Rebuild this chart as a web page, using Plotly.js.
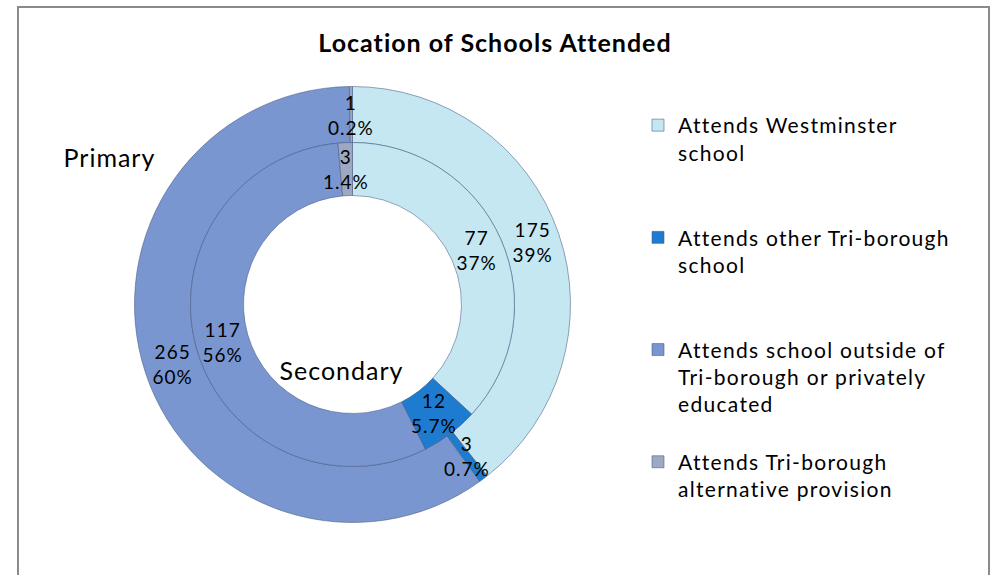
<!DOCTYPE html>
<html><head><meta charset="utf-8">
<script src="https://cdn.plot.ly/plotly-3.0.1.min.js"></script>
<style>
html,body{margin:0;padding:0;background:#fff}
#chart{width:991px;height:575px}
#chart svg text{letter-spacing:1px}
#chart svg .legendtext{letter-spacing:1.3px}
#chart svg .legend .scrollbox{clip-path:none !important}
</style>
</head><body><div id="chart"></div>
<script>
// ---- data ----
const chartTitle = "Location of Schools Attended";
const categories = [
  "Attends Westminster<br>school",
  "Attends other Tri-borough<br>school",
  "Attends school outside of<br>Tri-borough or privately<br>educated",
  "Attends Tri-borough<br>alternative provision"
];
const primaryValues = [175, 3, 265, 1];
const secondaryValues = [77, 12, 117, 3];
const ringNames = ["Primary", "Secondary"];

// ---- styles / geometry ----
const W = 991, H = 575;
const CX = 352.5, CY = 304.5;
const R_OUT = 218, R_MID = 162, R_IN = 109;
const colors = ["#C4E7F1", "#1E7CD0", "#7996D0", "#9DA9C3"];
const FONT = "Lato, 'Open Sans', sans-serif";

function dom(r) {
  return {x: [(CX - r) / W, (CX + r) / W], y: [(H - CY - r) / H, (H - CY + r) / H]};
}
// pad legend names to equal line counts so entries are evenly spaced
const LINES = 4;
const legendNames = categories.map(c => {
  const n = c.split("<br>").length;
  let s = c;
  for (let i = n; i < LINES; i++) s += "<br>\u00a0";
  return s;
});

function fmtPct(p) { return p >= 10 ? Math.round(p) + "%" : p.toFixed(1) + "%"; }

function ringLabels(values, r0, r1) {
  const total = values.reduce((a, b) => a + b, 0);
  let cum = 0;
  const out = [];
  values.forEach(v => {
    const mid = (cum + v / 2) / total * 2 * Math.PI;
    cum += v;
    const r = (r0 + r1) / 2;
    out.push({
      x: (CX + r * Math.sin(mid)) / W,
      y: (H - CY + r * Math.cos(mid)) / H,
      xref: "paper", yref: "paper", showarrow: false,
      xanchor: "center", yanchor: "middle",
      text: v + "<br>" + fmtPct(v / total * 100),
      font: {family: FONT, size: 19, color: "#000"}
    });
  });
  return out;
}

const lineStyle = {color: "rgba(70,90,130,0.55)", width: 1};

const traces = [
  {
    type: "pie", name: ringNames[0], labels: legendNames, values: primaryValues,
    hole: R_MID / R_OUT, domain: dom(R_OUT), sort: false, direction: "clockwise", rotation: 0,
    textinfo: "none", marker: {colors: colors, line: lineStyle}, showlegend: true
  },
  {
    type: "pie", name: ringNames[1], labels: legendNames, values: secondaryValues,
    hole: R_IN / R_MID, domain: dom(R_MID), sort: false, direction: "clockwise", rotation: 0,
    textinfo: "none", marker: {colors: colors, line: lineStyle}, showlegend: true
  }
];

const annotations = []
  .concat(ringLabels(primaryValues, R_MID, R_OUT))
  .concat(ringLabels(secondaryValues, R_IN, R_MID))
  .concat([
    {x: 109.5 / W, y: (H - 157) / H, xref: "paper", yref: "paper", showarrow: false,
     xanchor: "center", yanchor: "middle",
     text: ringNames[0], font: {family: FONT, size: 25, color: "#000"}},
    {x: 341.5 / W, y: (H - 370) / H, xref: "paper", yref: "paper", showarrow: false,
     xanchor: "center", yanchor: "middle",
     text: ringNames[1], font: {family: FONT, size: 25, color: "#000"}}
  ]);

const layout = {
  width: W, height: H,
  margin: {l: 0, r: 0, t: 0, b: 0},
  paper_bgcolor: "#fff",
  title: {text: "<b>" + chartTitle + "</b>", x: 495 / W, xanchor: "center", xref: "container",
          y: 1 - 43 / H, yanchor: "middle", yref: "container",
          font: {family: FONT, size: 25, color: "#000"}},
  showlegend: true,
  legend: {x: 638 / W, xanchor: "left", y: (H - 105) / H, yanchor: "top", valign: "top",
           font: {family: FONT, size: 21, color: "#000"}, bgcolor: "rgba(0,0,0,0)", traceorder: "normal"},
  annotations: annotations,
  shapes: [{type: "rect", xref: "paper", yref: "paper", x0: 18 / W, x1: 989 / W, y0: -0.1, y1: (H - 7) / H,
            line: {color: "#8a8a8a", width: 2}, fillcolor: "rgba(0,0,0,0)", layer: "below"}]
};

Plotly.newPlot("chart", traces, layout, {displayModeBar: false, staticPlot: true});
</script>
</body></html>
